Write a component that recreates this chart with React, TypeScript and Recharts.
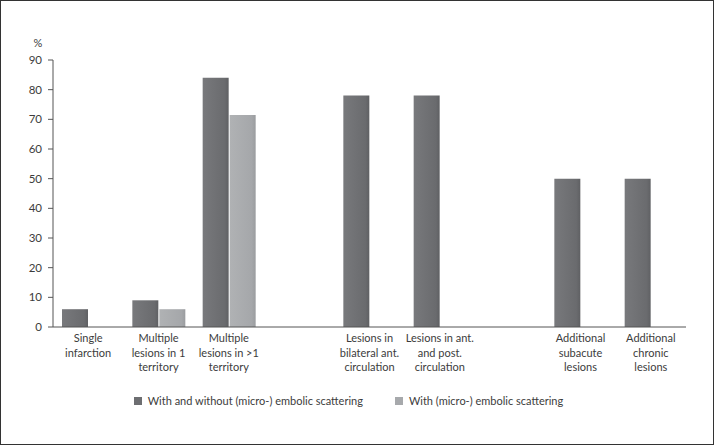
import { BarChart, Bar, XAxis, YAxis, Legend } from "recharts";

const categories = [
  "Single\ninfarction",
  "Multiple\nlesions in 1\nterritory",
  "Multiple\nlesions in >1\nterritory",
  "",
  "Lesions in\nbilateral ant.\ncirculation",
  "Lesions in ant.\nand post.\ncirculation",
  " ",
  "Additional\nsubacute\nlesions",
  "Additional\nchronic\nlesions",
];
const withAndWithout = [6, 9, 84, null, 78, 78, null, 50, 50];
const withScattering = [null, 6, 71.5, null, 0, 0, null, 0, 0];
const yTicks = [0, 10, 20, 30, 40, 50, 60, 70, 80, 90];

const seriesNames = [
  "With and without (micro-) embolic scattering",
  "With (micro-) embolic scattering",
];

const data = categories.map((name, i) => ({
  name,
  a: withAndWithout[i],
  b: withScattering[i],
}));

const FONT = "Lato, 'Open Sans', sans-serif";
const DARK = "#6d6e71";
const LIGHT = "#a7a9ac";
const TEXT = "#3c3c3c";

const CategoryTick = ({ x, y, payload }: any) => {
  const lines = String(payload.value).trim() ? String(payload.value).split("\n") : [];
  return (
    <text
      x={x}
      y={y + 15}
      textAnchor="middle"
      fill={TEXT}
      fontSize={11}
      fontFamily={FONT}
    >
      {lines.map((l: string, i: number) => (
        <tspan key={i} x={x} dy={i === 0 ? 0 : 14.7}>
          {l}
        </tspan>
      ))}
    </text>
  );
};

const LegendContent = () => (
  <div
    style={{
      display: "flex",
      justifyContent: "center",
      gap: 32,
      paddingLeft: 10,
      fontFamily: FONT,
      fontSize: 11,
      color: TEXT,
      lineHeight: "14px",
    }}
  >
    {[DARK, LIGHT].map((c, i) => (
      <div key={i} style={{ display: "flex", alignItems: "center" }}>
        <span
          style={{
            display: "inline-block",
            width: 8,
            height: 8,
            background: c,
            marginRight: 6,
          }}
        />
        {seriesNames[i]}
      </div>
    ))}
  </div>
);

const App = () => {
  return (
    <div
      style={{
        position: "absolute",
        left: 0,
        top: 0,
        width: 714,
        height: 445,
        border: "1px solid #333",
        boxSizing: "border-box",
        background: "#fff",
      }}
    >
      <BarChart
        width={712}
        height={443}
        data={data}
        margin={{ top: 59, right: 27, left: 0, bottom: 0 }}
        barGap={1}
        barCategoryGap={9}
      >
        <defs>
          <linearGradient id="darkBar" x1="0" y1="0" x2="1" y2="0">
            <stop offset="0%" stopColor="#78797c" />
            <stop offset="85%" stopColor="#6a6b6e" />
            <stop offset="100%" stopColor="#5f6063" />
          </linearGradient>
          <linearGradient id="lightBar" x1="0" y1="0" x2="1" y2="0">
            <stop offset="0%" stopColor="#b0b2b4" />
            <stop offset="85%" stopColor="#a5a7aa" />
            <stop offset="100%" stopColor="#9a9c9f" />
          </linearGradient>
        </defs>
        <XAxis
          dataKey="name"
          height={67}
          tick={CategoryTick}
          tickLine={false}
          tickSize={0}
          tickMargin={0}
          interval={0}
          stroke="#555"
          allowDuplicatedCategory
        />
        <YAxis
          width={52}
          domain={[0, 90]}
          ticks={yTicks}
          interval={0}
          stroke="#555"
          tickSize={5}
          tickMargin={6}
          tick={{ fill: TEXT, fontSize: 11.5, fontFamily: FONT }}
          label={{
            content: ({ viewBox }: any) => (
              <text
                x={viewBox.x + viewBox.width - 15}
                y={viewBox.y - 13}
                textAnchor="middle"
                fill={TEXT}
                fontSize={11}
                fontFamily={FONT}
              >
                %
              </text>
            ),
          }}
        />
        <Legend verticalAlign="bottom" height={50} content={LegendContent} />
        <Bar dataKey="a" name={seriesNames[0]} fill="url(#darkBar)" isAnimationActive={false} />
        <Bar dataKey="b" name={seriesNames[1]} fill="url(#lightBar)" isAnimationActive={false} />
      </BarChart>
    </div>
  );
};

export default App;
